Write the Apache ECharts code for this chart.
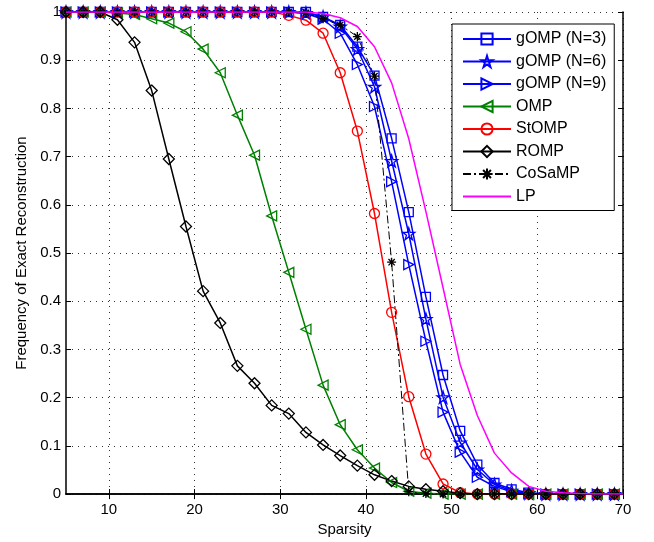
<!DOCTYPE html>
<html>
<head>
<meta charset="utf-8">
<script src="https://cdn.jsdelivr.net/npm/echarts@6/dist/echarts.min.js"></script>
<style>html,body{margin:0;padding:0;background:#fff;}#c{width:654px;height:542px;}</style>
</head>
<body>
<div id="c"></div>
<script>
const sparsity = [5,7,9,11,13,15,17,19,21,23,25,27,29,31,33,35,37,39,41,43,45,47,49,51,53,55,57,59,61,63,65,67,69];
const lpSparsity = [5,7,9,11,13,15,17,19,21,23,25,27,29,31,33,35,37,39,41,43,45,47,49,51,53,55,57,59,61,63,65,67,69,70];
const xTicks = [10,20,30,40,50,60,70];

const gomp3 = [1,1,1,1,1,1,1,1,1,1,1,1,1,1,1.0,0.99,0.973,0.928,0.868,0.738,0.585,0.409,0.247,0.131,0.061,0.023,0.010,0.003,0,0,0,0,0];
const gomp6 = [1,1,1,1,1,1,1,1,1,1,1,1,1,1,0.998,0.99,0.97,0.923,0.845,0.691,0.540,0.363,0.201,0.107,0.051,0.020,0.007,0.002,0,0,0,0,0];
const gomp9 = [1,1,1,1,1,1,1,1,1,1,1,1,1,1,0.997,0.985,0.956,0.891,0.804,0.648,0.476,0.317,0.170,0.087,0.035,0.016,0.005,0.001,0,0,0,0,0];
const omp   = [1,1,1,0.998,0.995,0.986,0.977,0.959,0.923,0.874,0.786,0.703,0.577,0.460,0.342,0.226,0.144,0.092,0.054,0.024,0.006,0.002,0,0,0,0,0,0,0,0,0,0,0];
const stomp = [1,1,1,1,1,1,1,1,1,1,1,1,1,0.993,0.983,0.956,0.874,0.753,0.582,0.377,0.202,0.083,0.021,0.003,0,0,0,0,0,0,0,0,0];
const romp  = [1,1,1,0.984,0.937,0.837,0.695,0.555,0.421,0.355,0.266,0.230,0.184,0.167,0.128,0.102,0.080,0.059,0.040,0.027,0.016,0.010,0.006,0.002,0,0,0,0,0,0,0,0,0];
const cosamp= [1,1,1,1,1,1,1,1,1,1,1,1,1,1,0.998,0.986,0.973,0.949,0.867,0.481,0.005,0.001,0,0,0,0,0,0,0,0,0,0,0];
const lp    = [1,1,1,1,1,1,1,1,1,1,1,1,1,1,1,0.997,0.988,0.97,0.928,0.853,0.737,0.586,0.428,0.269,0.163,0.085,0.044,0.016,0.006,0.003,0.001,0,0,0];

const FONT = '"Liberation Sans", Arial, Helvetica, sans-serif';
const STAR = 'path://M10,0L12.25,6.91L19.51,6.91L13.63,11.18L15.88,18.09L10,13.82L4.12,18.09L6.37,11.18L0.49,6.91L7.75,6.91Z';
const RTRI = 'path://M0,0L10,5L0,10Z';
const LTRI = 'path://M10,0L0,5L10,10Z';
const AST = 'path://M5,0L5,10M0,5L10,5M1.5,1.5L8.5,8.5M1.5,8.5L8.5,1.5';

function pairs(xs, ys){ return xs.map((x,i)=>[x, ys[i]]); }
function mk(name, ys, color, symbol, size, extra){
  return Object.assign({
    name, type:'line', data: pairs(sparsity, ys),
    symbol, symbolSize: size, showSymbol: true,
    itemStyle:{color:'rgba(255,255,255,0)', borderColor: color, borderWidth: 1.3},
    lineStyle:{color, width:1.5},
    emphasis:{disabled:true}, animation:false, z: 2
  }, extra||{});
}

const chart = echarts.init(document.getElementById('c'), null, {renderer:'canvas'});
const axisCommon = {
  type:'value', min:5, max:70,
  axisLine:{show:true, lineStyle:{color:'#000', width:1.5}},
  axisTick:{show:true, inside:true, length:5, customValues: xTicks, lineStyle:{color:'#000'}},
};
chart.setOption({
  backgroundColor:'#fff',
  animation:false,
  grid:{left:66, right:31, top:12, bottom:42, containLabel:false},
  xAxis:[
    Object.assign({}, axisCommon, {
      position:'bottom',
      name:'Sparsity', nameLocation:'middle', nameGap:24,
      nameTextStyle:{color:'#000', fontSize:15, fontFamily:FONT},
      axisLabel:{customValues: xTicks, color:'#000', fontSize:15, fontFamily:FONT, margin:8},
      splitLine:{show:true, lineStyle:{color:'#000', type:[1,5], width:1, opacity:0.8}}
    }),
    Object.assign({}, axisCommon, {
      position:'top', axisLabel:{show:false}, splitLine:{show:false}
    })
  ],
  yAxis:[
    {
      type:'value', min:0, max:1, interval:0.1, position:'left',
      name:'Frequency of Exact Reconstruction', nameLocation:'middle', nameGap:33,
      nameTextStyle:{color:'#000', fontSize:15, fontFamily:FONT},
      axisLine:{show:true, lineStyle:{color:'#000', width:1.5}},
      axisTick:{show:true, inside:true, length:5, lineStyle:{color:'#000'}},
      axisLabel:{color:'#000', fontSize:15, fontFamily:FONT, margin:5,
        formatter: v => (Math.abs(v)<1e-9 ? '0' : Math.abs(v-1)<1e-9 ? '1' : v.toFixed(1))},
      splitLine:{show:true, lineStyle:{color:'#000', type:[1,5], width:1, opacity:0.8}}
    },
    {
      type:'value', min:0, max:1, interval:0.1, position:'right',
      axisLine:{show:true, lineStyle:{color:'#000', width:1.5}},
      axisTick:{show:true, inside:true, length:5, lineStyle:{color:'#000'}},
      axisLabel:{show:false}, splitLine:{show:false}
    }
  ],
  legend:{
    orient:'vertical', left:452, top:24,
    padding:[7,8,6,10], itemGap:6.5, itemWidth:48, itemHeight:14,
    backgroundColor:'#fff', borderColor:'#000', borderWidth:1, borderRadius:0,
    textStyle:{color:'#000', fontSize:16, fontFamily:FONT},
    data:['gOMP (N=3)','gOMP (N=6)','gOMP (N=9)','OMP','StOMP','ROMP','CoSaMP',
      {name:'LP', itemStyle:{opacity:0}}],
    selectedMode:false
  },
  series:[
    mk('gOMP (N=3)', gomp3, '#0000ff', 'rect', 9),
    mk('gOMP (N=6)', gomp6, '#0000ff', STAR, 12),
    mk('gOMP (N=9)', gomp9, '#0000ff', RTRI, 10),
    mk('OMP', omp, '#008000', LTRI, 10),
    mk('StOMP', stomp, '#ff0000', 'circle', 10),
    mk('ROMP', romp, '#000000', 'diamond', 11),
    mk('CoSaMP', cosamp, '#000000', AST, 9, {lineStyle:{color:'#000', width:1, type:[8,3,2,3]}}),
    {name:'LP', type:'line', data: pairs(lpSparsity, lp), symbol:'circle', symbolSize:0, showSymbol:false,
     itemStyle:{color:'rgba(255,0,255,0)', borderColor:'rgba(255,0,255,0)'}, lineStyle:{color:'#ff00ff', width:1.5},
     emphasis:{disabled:true}, animation:false, z:3}
  ]
});
</script>
</body>
</html>
